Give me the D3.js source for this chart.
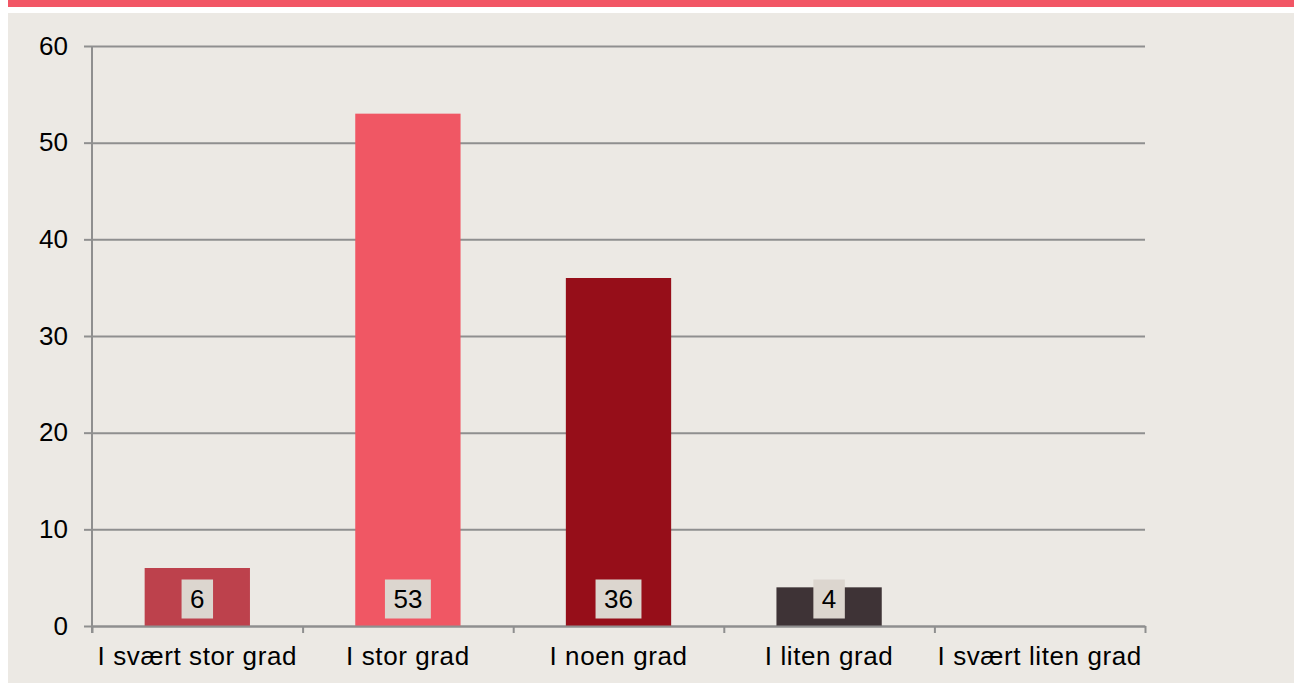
<!DOCTYPE html>
<html>
<head>
<meta charset="utf-8">
<script src="https://cdn.jsdelivr.net/npm/d3@7"></script>
<style>
  body { margin: 0; background: #fff; }
  svg { display: block; font-family: "Liberation Sans", Arial, sans-serif; }
</style>
</head>
<body>
<svg id="chart" width="1294" height="684"></svg>
<script>
const categories = ['I svært stor grad', 'I stor grad', 'I noen grad', 'I liten grad', 'I svært liten grad']
const values = [6, 53, 36, 4, null]
const barColors = ['#bd414c', '#f05764', '#960e19', '#3e3336', '#888']
const yTicks = [0, 10, 20, 30, 40, 50, 60]

const svg = d3.select('#chart')

// top band + panel
svg.append('rect').attr('x', 8).attr('y', 0).attr('width', 1286).attr('height', 7).attr('fill', '#f25665')
svg.append('rect').attr('x', 8).attr('y', 13).attr('width', 1286).attr('height', 670).attr('fill', '#ece9e4')

const plotLeft = 92, plotRight = 1145, plotTop = 46, plotBottom = 626
const fontSize = 26

const x = d3.scaleBand().domain(categories).range([plotLeft, plotRight]).paddingInner(0.5).paddingOuter(0.25)
const xEdge = d3.scaleLinear().domain([0, categories.length]).range([plotLeft, plotRight])
const y = d3.scaleLinear().domain([0, 60]).range([plotBottom, plotTop])

// gridlines
svg.append('g')
  .attr('transform', `translate(${plotLeft},0)`)
  .call(d3.axisLeft(y).tickValues(yTicks).tickSize(-(plotRight - plotLeft)).tickFormat(''))
  .call(g => g.select('.domain').remove())
  .call(g => g.selectAll('line').attr('stroke', '#8f8f8f').attr('stroke-width', 2))

// bars
svg.append('g').selectAll('rect')
  .data(categories.map((c, i) => ({ c, v: values[i], color: barColors[i] })).filter(d => d.v != null))
  .enter()
  .append('rect')
  .attr('x', d => x(d.c))
  .attr('y', d => y(d.v))
  .attr('width', x.bandwidth())
  .attr('height', d => y(0) - y(d.v))
  .attr('fill', d => d.color)

// y axis
svg.append('g')
  .attr('transform', `translate(${plotLeft},0)`)
  .call(d3.axisLeft(y).tickValues(yTicks).tickSize(8).tickPadding(16).tickSizeOuter(0))
  .call(g => g.select('.domain').attr('d', `M0,${plotTop}V${plotBottom + 7}`).attr('stroke', '#8f8f8f').attr('stroke-width', 2))
  .call(g => g.selectAll('.tick line').attr('stroke', '#8f8f8f').attr('stroke-width', 2))
  .call(g => g.selectAll('text').attr('font-size', fontSize).attr('fill', '#000'))

// x axis: boundary ticks
svg.append('g')
  .attr('transform', `translate(0,${plotBottom})`)
  .call(d3.axisBottom(xEdge).tickValues(d3.range(categories.length + 1)).tickSize(7).tickFormat('').tickSizeOuter(0))
  .call(g => g.selectAll('line, path').attr('stroke', '#8f8f8f').attr('stroke-width', 2))

// x axis labels
svg.append('g')
  .attr('transform', `translate(0,${plotBottom})`)
  .call(d3.axisBottom(x).tickSize(0).tickPadding(21))
  .call(g => g.select('.domain').remove())
  .call(g => g.selectAll('text').attr('font-size', fontSize).attr('letter-spacing', 0.6).attr('fill', '#000'))

// value labels
const labels = svg.append('g').selectAll('g')
  .data(categories.map((c, i) => ({ c, v: values[i] })).filter(d => d.v != null))
  .enter()
  .append('g')
  .attr('transform', d => `translate(${x(d.c) + x.bandwidth() / 2},${y(0) - 27})`)

labels.append('text')
  .attr('text-anchor', 'middle')
  .attr('dy', '0.36em')
  .attr('font-size', fontSize)
  .attr('fill', '#000')
  .text(d => d.v)

labels.each(function () {
  const g = d3.select(this)
  const w = g.select('text').node().getComputedTextLength()
  g.insert('rect', 'text')
    .attr('x', -w / 2 - 8.5)
    .attr('y', -19.5)
    .attr('width', w + 17)
    .attr('height', 39)
    .attr('fill', '#dcd6cf')
})
</script>
</body>
</html>
